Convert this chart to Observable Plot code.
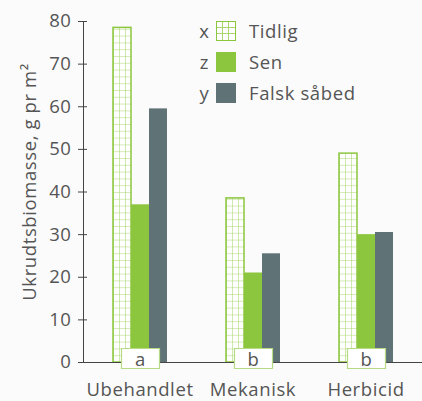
<!DOCTYPE html>
<html><head><meta charset="utf-8">
<script src="https://cdn.jsdelivr.net/npm/d3@7"></script>
<script src="https://cdn.jsdelivr.net/npm/@observablehq/plot@0.6"></script>
<style>
body{margin:0;background:#fbfbfb;}
#wrap{position:relative;width:422px;height:401px;font-family:"Open Sans",sans-serif;color:#555;}
#legend{position:absolute;left:193px;top:15px;letter-spacing:0.6px;}
#legend .row{display:flex;align-items:center;height:31px;font-size:18.5px;}
#legend .let{width:23px;text-align:center;}
#legend .sw{width:20px;height:20px;box-sizing:border-box;margin-right:13px;}
</style></head><body><div id="wrap"><div id="legend"></div></div>
<script>
const groups = ["Ubehandlet", "Mekanisk", "Herbicid"];
const series = ["Tidlig", "Sen", "Falsk såbed"];
const tidlig = [78.5, 38.5, 49];
const sen = [37, 21, 30];
const falsk = [59.5, 25.5, 30.5];
const groupLetters = ["a", "b", "b"];
const seriesLetters = ["x", "z", "y"];
const yTicks = [0, 10, 20, 30, 40, 50, 60, 70, 80];

const seriesValues = [tidlig, sen, falsk];
const data = groups.flatMap((g, i) => series.map((s, j) => ({group: g, series: s, value: seriesValues[j][i]})));
const letterData = groups.map((g, i) => ({group: g, letter: groupLetters[i]}));

const green = "#8cc63f", dark = "#5f7275", gridGreen = "#a9d66e";
const boxSymbol = {draw(ctx) { ctx.rect(-19, -10, 38, 20); }};

const chart = Plot.plot({
  width: 422, height: 401,
  marginLeft: 82, marginRight: 0, marginTop: 21, marginBottom: 39,
  style: {background: "transparent", fontFamily: "'Open Sans', sans-serif", fontSize: "18.5px", color: "#555", letterSpacing: "0.6px"},
  fx: {domain: groups, paddingInner: 0, paddingOuter: 0, label: null},
  x: {domain: series, paddingInner: 0, paddingOuter: 1.48, axis: null},
  y: {domain: [0, 80]},
  color: {domain: series, range: ["url(#tidlig-grid)", green, dark]},
  marks: [
    Plot.barY(data, {fx: "group", x: "series", y: "value", fill: "series"}),
    Plot.barY(data.filter(d => d.series === series[0]), {fx: "group", x: "series", y: "value", fill: "none", stroke: green, strokeWidth: 1.5}),
    Plot.frame({anchor: "bottom", stroke: "#444"}),
    Plot.frame({anchor: "left", stroke: "#444", facetAnchor: "left"}),
    Plot.axisY({ticks: yTicks, tickSize: 5, tickPadding: 7, stroke: "#444", fill: "#555", label: "Ukrudtsbiomasse, g pr m²", labelAnchor: "center", labelArrow: "none", labelOffset: 61}),
    Plot.axisY({ticks: yTicks, tickSize: -4, stroke: "#444", tickFormat: () => "", label: null}),
    Plot.axisFx({anchor: "bottom", tickSize: 0, tickPadding: 20, label: null, fill: "#555"}),
    Plot.dot(letterData, {fx: "group", x: () => series[1], y: 0, symbol: boxSymbol, fill: "white", stroke: "#b5dc85", strokeWidth: 1.2, dy: -4}),
    Plot.text(letterData, {fx: "group", x: () => series[1], y: 0, text: "letter", fill: "#555", fontSize: 18.5, dy: -2})
  ]
});

// grid pattern for "Tidlig"
const xs = chart.scale("x"), ys = chart.scale("y");
const cw = xs.bandwidth / 3, ch = 6.8;
const ns = "http://www.w3.org/2000/svg";
const svg = chart.tagName.toLowerCase() === "svg" ? chart : chart.querySelector("svg");
const defs = document.createElementNS(ns, "defs");
defs.innerHTML = `<pattern id="tidlig-grid" patternUnits="userSpaceOnUse" x="${xs.apply(series[0])}" y="${ys.apply(0)}" width="${cw}" height="${ch}">
<rect width="${cw}" height="${ch}" fill="white"/><path d="M0 0H${cw}M0 0V${ch}" stroke="${gridGreen}" stroke-width="1.1" fill="none"/></pattern>`;
svg.insertBefore(defs, svg.firstChild);

// move y-label to match
const yl = svg.querySelector('[aria-label="y-axis label"] text');
document.getElementById("wrap").appendChild(chart);

if (yl) {
  const t = yl.getAttribute("transform") || "";
  yl.setAttribute("transform", "translate(0,-10) " + t);
}

// legend
const legend = d3.select("#legend");
const swStyles = [
  `background:linear-gradient(to right, transparent 5.5px, ${gridGreen} 5.5px, ${gridGreen} 6.5px, transparent 6.5px, transparent 11.5px, ${gridGreen} 11.5px, ${gridGreen} 12.5px, transparent 12.5px), linear-gradient(to bottom, transparent 5.5px, ${gridGreen} 5.5px, ${gridGreen} 6.5px, transparent 6.5px, transparent 11.5px, ${gridGreen} 11.5px, ${gridGreen} 12.5px, transparent 12.5px), white; border:1.5px solid ${green};`,
  `background:${green};`,
  `background:${dark};`
];
series.forEach((s, i) => {
  const row = legend.append("div").attr("class", "row");
  row.append("span").attr("class", "let").text(seriesLetters[i]);
  row.append("span").attr("class", "sw").attr("style", swStyles[i]);
  row.append("span").text(s);
});
</script></body></html>
